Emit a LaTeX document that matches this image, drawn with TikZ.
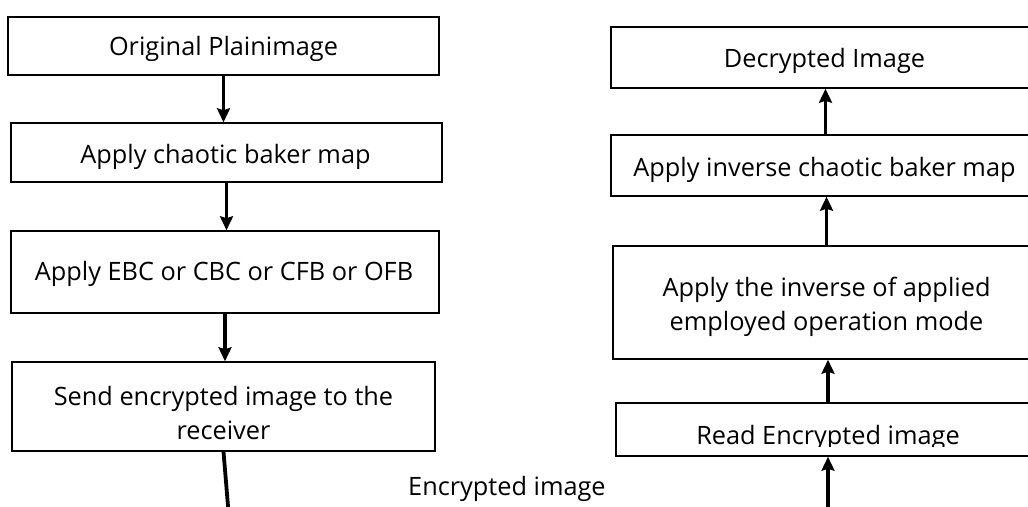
\documentclass[tikz,border=0pt]{standalone}
\usepackage{fontspec}
\setmainfont{Open Sans}
\usetikzlibrary{arrows.meta,calc}
\begin{document}
\begin{tikzpicture}[x=1pt,y=-1pt,
  txt/.style={inner sep=0pt,align=center,font=\fontsize{25.3}{34}\selectfont},
  box/.style={draw,line width=1.5pt,inner sep=0pt},
  flow/.style={line width=3.8pt,-{Stealth[length=14pt,width=13pt,inset=2pt]}},
  plain/.style={line width=3.8pt}]
\clip (0,0) rectangle (1028,506);
\fill[white] (0,0) rectangle (1028,506);
% sender side
\node[box,minimum width=431pt,minimum height=58pt] (b1) at (223.5,46) {};
\node[txt] (b1t) at ($(b1.center)+(0,3)$) {Original Plainimage};
\node[box,minimum width=431pt,minimum height=59pt] (b2) at (226.5,152.5) {};
\node[txt] (b2t) at ($(b2.center)+(-1,4)$) {Apply chaotic baker map};
\node[box,minimum width=428pt,minimum height=82pt] (b3) at (225,272) {};
\node[txt] (b3t) at ($(b3.center)+(-1,2)$) {Apply EBC or CBC or CFB or OFB};
\node[box,minimum width=423pt,minimum height=89pt] (b4) at (223.5,406.5) {};
\node[txt] (b4t) at ($(b4.center)+(0,7)$) {Send encrypted image to the\\receiver};
\draw[flow] (b1.south) -- (b1.south |- b2.north);
\draw[flow] (b2.south) -- (b2.south |- b3.north);
\draw[flow] (b3.south) -- (b3.south |- b4.north);
\coordinate (e1) at (228.5,512);
\draw[plain] (b4.south) -- (e1);
% label
\node[txt,anchor=base west] (lab) at (408,495) {Encrypted image};
% receiver side
\node[box,minimum width=429pt,minimum height=61pt] (r1) at (825.5,57.5) {};
\node[txt] (r1t) at ($(r1.center)+(-1,3)$) {Decrypted Image};
\node[box,minimum width=429pt,minimum height=61pt] (r2) at (825.5,165.5) {};
\node[txt] (r2t) at ($(r2.center)+(-1,4)$) {Apply inverse chaotic baker map};
\node[box,minimum width=427pt,minimum height=113pt] (r3) at (826.5,302.5) {};
\node[txt] (r3t) at ($(r3.center)+(0,4)$) {Apply the inverse of applied\\employed operation mode};
\node[box,minimum width=424pt,minimum height=53pt] (r4) at (828,429.5) {};
\begin{scope}
\clip (616,403) rectangle (1040,446);
\node[txt,anchor=base] (r4t) at (828,444) {Read Encrypted image};
\end{scope}
\draw[flow] (r2.north) -- (r2.north |- r1.south);
\draw[flow] (r3.north) -- (r3.north |- r2.south);
\draw[flow] (r4.north) -- (r4.north |- r3.south);
\coordinate (e2) at (828,512);
\draw[flow] (e2) -- (r4.south);
\end{tikzpicture}
\end{document}
